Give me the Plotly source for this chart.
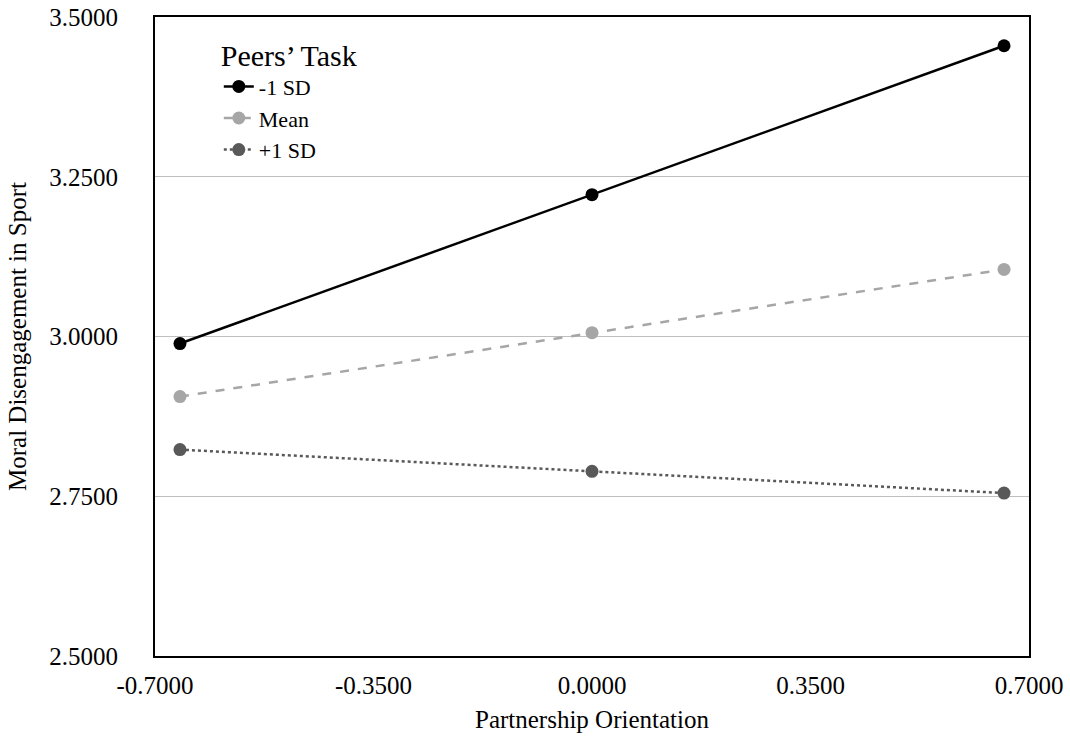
import plotly.graph_objects as go

x_vals = [-0.66, 0.0, 0.66]
low_sd = [2.989, 3.222, 3.455]
mean_vals = [2.906, 3.006, 3.105]
high_sd = [2.823, 2.789, 2.755]
series_names = ["-1 SD", "Mean", "+1 SD"]
x_ticks = [-0.7, -0.35, 0.0, 0.35, 0.7]
x_tick_labels = ["-0.7000", "-0.3500", "0.0000", "0.3500", "0.7000"]
y_ticks = [2.5, 2.75, 3.0, 3.25, 3.5]
y_tick_labels = ["2.5000", "2.7500", "3.0000", "3.2500", "3.5000"]

FONT = "Liberation Serif, Times New Roman, serif"

fig = go.Figure()
styles = [
    dict(color="#000000", dash="solid"),
    dict(color="#a6a6a6", dash="dash"),
    dict(color="#595959", dash="dot"),
]
for name, ys, st in zip(series_names, [low_sd, mean_vals, high_sd], styles):
    fig.add_trace(go.Scatter(
        x=x_vals, y=ys, name=name, mode="lines+markers",
        line=dict(color=st["color"], dash=st["dash"], width=2.5),
        marker=dict(color=st["color"], size=13),
    ))

fig.update_layout(
    width=1070, height=740,
    margin=dict(l=155, r=41, t=17, b=84),
    paper_bgcolor="white", plot_bgcolor="white",
    font=dict(family=FONT, size=25, color="#000000"),
    showlegend=True,
    legend=dict(
        x=0.073, y=0.985, xanchor="left", yanchor="top",
        title=dict(text="Peers’ Task", font=dict(size=30)),
        font=dict(size=22),
        bgcolor="rgba(0,0,0,0)",
        tracegroupgap=0, itemwidth=30,
    ),
    xaxis=dict(
        range=[-0.7, 0.7], tickvals=x_ticks, ticktext=x_tick_labels,
        showgrid=False, zeroline=False, automargin=False,
        showline=True, mirror=True, linecolor="black", linewidth=2,
        ticks="", ticklabelstandoff=6,
        title=dict(text="Partnership Orientation", font=dict(size=25), standoff=12),
    ),
    yaxis=dict(
        range=[2.5, 3.5], tickvals=y_ticks, ticktext=y_tick_labels,
        showgrid=True, gridcolor="#bfbfbf", gridwidth=1, zeroline=False,
        automargin=False,
        showline=True, mirror=True, linecolor="black", linewidth=2,
        ticks="", ticklabelstandoff=30,
        title=dict(text="Moral Disengagement in Sport", font=dict(size=25), standoff=16),
    ),
)

fig.write_html("out.html", config={"displayModeBar": False},
               post_script="document.body.style.margin='0';")
